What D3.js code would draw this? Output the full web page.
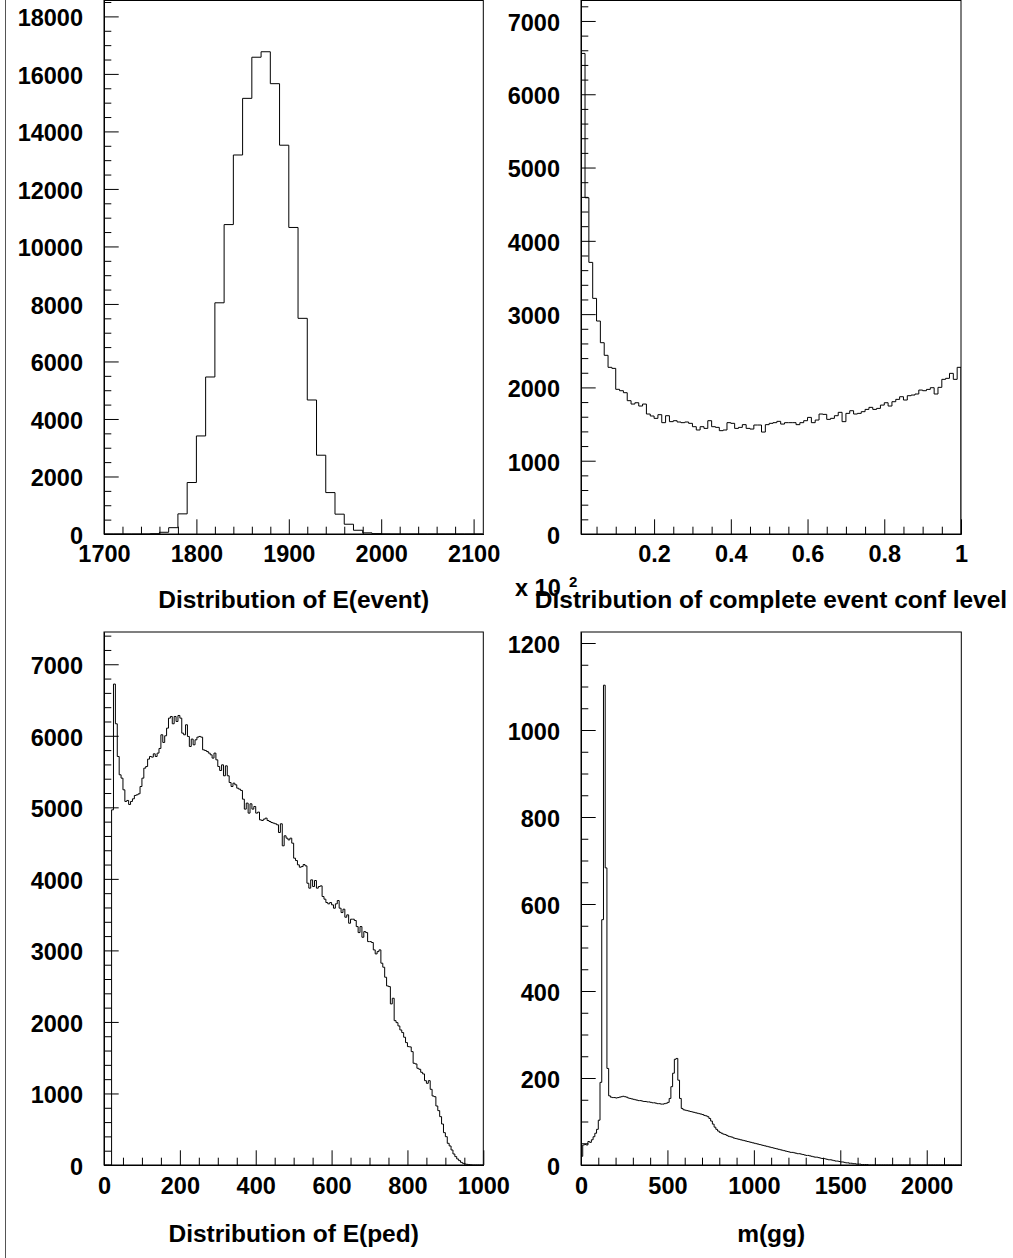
<!DOCTYPE html>
<html>
<head>
<meta charset="utf-8">
<script src="https://cdn.jsdelivr.net/npm/d3@7"></script>
<style>
  html, body { margin: 0; padding: 0; background: #fff; }
  svg { display: block; }
  text { font-family: "Liberation Sans", Arial, Helvetica, sans-serif; font-weight: bold; fill: #000; }
</style>
</head>
<body>
<svg id="canvas" width="1013" height="1258"></svg>
<script>
// ---------------- E(event): 10-unit bins from 1700 ----------------
const eventStart = 1700, eventWidth = 10;
const eventCounts = [
  0, 0, 0, 0, 0, 10, 60, 220, 700, 1790,
  3410, 5460, 8040, 10760, 13180, 15150, 16580, 16770, 15660, 13520,
  10660, 7500, 4660, 2740, 1440, 690, 340, 130, 40, 12,
  3, 0, 0, 0, 0, 0, 0, 0, 0, 0, 0
];
const eventXTicks = [1700, 1800, 1900, 2000, 2100];
const eventYTicks = [0, 2000, 4000, 6000, 8000, 10000, 12000, 14000, 16000, 18000];

// ---------------- complete event confidence level: 0.01 bins from 0.01 ----------------
const confStart = 0.01, confWidth = 0.01;
const confCounts = [
  6557, 4588, 3706, 3215, 2906, 2610, 2438, 2274, 2260, 1974,
  1955, 1928, 1819, 1773, 1791, 1746, 1773, 1637, 1610, 1578,
  1628, 1519, 1614, 1533, 1546, 1528, 1519, 1528, 1510, 1464,
  1419, 1464, 1441, 1546, 1464, 1455, 1410, 1419, 1519, 1510,
  1441, 1455, 1492, 1441, 1432, 1487, 1487, 1391, 1492, 1510,
  1519, 1537, 1500, 1519, 1519, 1519, 1492, 1519, 1546, 1591,
  1519, 1555, 1637, 1632, 1564, 1578, 1614, 1660, 1533, 1646,
  1682, 1637, 1646, 1669, 1700, 1728, 1700, 1714, 1759, 1791,
  1746, 1805, 1837, 1873, 1828, 1887, 1896, 1910, 1964, 1955,
  1973, 1996, 1910, 2001, 2110, 2124, 2192, 2110, 2274
];
const confXTicks = [0.2, 0.4, 0.6, 0.8, 1];
const confXLabels = ["0.2", "0.4", "0.6", "0.8", "1"];
const confYTicks = [0, 1000, 2000, 3000, 4000, 5000, 6000, 7000];

// ---------------- E(ped): 5-unit bins from 0 ----------------
const pedStart = 0, pedWidth = 5;
const pedCounts = [
  0, 0, 0, 0, 4965, 6723, 6168, 5711, 5455, 5408,
  5245, 5082, 5096, 5040, 5082, 5119, 5166, 5175, 5189, 5291,
  5408, 5548, 5571, 5674, 5711, 5702, 5748, 5711, 5758, 5823,
  6014, 5907, 6000, 6107, 6247, 6270, 6168, 6270, 6200, 6284,
  6247, 6037, 6014, 6154, 5991, 5851, 5954, 5874, 5944, 5981,
  5991, 5981, 5804, 5795, 5781, 5758, 5734, 5688, 5758, 5664,
  5571, 5515, 5594, 5441, 5580, 5441, 5347, 5291, 5338, 5315,
  5268, 5254, 5236, 5114, 4975, 5059, 4919, 5049, 4975, 5012,
  4919, 4933, 4825, 4816, 4835, 4849, 4816, 4802, 4788, 4779,
  4770, 4756, 4648, 4770, 4462, 4602, 4569, 4545, 4569, 4499,
  4289, 4256, 4196, 4163, 4172, 4200, 4182, 3939, 3870, 3986,
  3893, 3977, 3870, 3893, 3902, 3753, 3716, 3669, 3651, 3669,
  3637, 3590, 3651, 3697, 3590, 3529, 3576, 3464, 3497, 3380,
  3436, 3436, 3418, 3333, 3249, 3333, 3184, 3263, 3249, 3123,
  3123, 3110, 3007, 2951, 2983, 3007, 2821, 2765, 2625, 2503,
  2494, 2252, 2331, 2018, 1990, 1944, 1888, 1851, 1786, 1711,
  1655, 1651, 1585, 1422, 1413, 1352, 1338, 1296, 1273, 1179,
  1142, 1179, 1058, 965, 955, 825, 760, 676, 573, 452,
  396, 303, 266, 210, 154, 117, 84, 61, 37, 23,
  14, 9, 5, 2, 0, 0, 0, 0, 0, 0
];
const pedXTicks = [0, 200, 400, 600, 800, 1000];
const pedYTicks = [0, 1000, 2000, 3000, 4000, 5000, 6000, 7000];

// ---------------- m(gg): 10-unit bins from 0 ----------------
const mggStart = 0, mggWidth = 10;
const mggCounts = [
  20, 46, 47, 46, 54, 52, 58, 65, 73, 82,
  103, 190, 564, 1103, 683, 222, 159, 156, 155, 155,
  154, 155, 156, 157, 158, 157, 156, 154, 153, 152,
  151, 150, 149, 148, 148, 147, 146, 146, 145, 145,
  144, 143, 143, 142, 141, 141, 140, 140, 141, 142,
  144, 153, 180, 211, 243, 245, 195, 153, 130, 127,
  126, 125, 124, 123, 122, 121, 120, 119, 118, 117,
  116, 114, 113, 111, 107, 101, 94, 87, 82, 78,
  75, 73, 71, 70, 68, 66, 65, 64, 62, 61,
  60, 59, 58, 57, 56, 55, 54, 53, 52, 51,
  50, 49, 48, 47, 46, 45, 44, 43, 42, 41,
  40, 39, 38, 37, 36, 35, 34, 33, 32, 31,
  30, 29, 29, 28, 27, 26, 26, 25, 24, 23,
  22, 22, 21, 20, 19, 18, 18, 17, 16, 15,
  15, 14, 13, 12, 12, 11, 10, 9, 9, 8,
  7, 7, 6, 5, 5, 4, 4, 3, 3, 2,
  2, 2, 1, 1, 1, 1, 0, 0, 0, 0,
  0, 0, 0, 0, 0, 0, 0, 0, 0, 0,
  0, 0, 0, 0, 0, 0, 0, 0, 0, 0,
  0, 0, 0, 0, 0, 0, 0, 0, 0, 0,
  0, 0, 0, 0, 0, 0, 0, 0, 0, 0,
  0, 0, 0, 0, 0, 0, 0, 0, 0, 0
];
const mggXTicks = [0, 500, 1000, 1500, 2000];
const mggYTicks = [0, 200, 400, 600, 800, 1000, 1200];

const titles = [
  "Distribution of E(event)",
  "Distribution of complete event conf level",
  "Distribution of E(ped)",
  "m(gg)"
];

// ---------------- drawing ----------------
const svg = d3.select("#canvas");
const TICK_FONT = 23.5, TITLE_FONT = 24.5;
const MAJOR = 14.7, MINOR = 7.3;

// left pad border
svg.append("line")
  .attr("x1", 5.5).attr("x2", 5.5).attr("y1", 0).attr("y2", 1258)
  .attr("stroke", "#555").attr("stroke-width", 1);

function stepPath(x, y, start, width, counts) {
  const p = d3.path();
  p.moveTo(x(start), y(0));
  counts.forEach((c, i) => {
    p.lineTo(x(start + i * width), y(c));
    p.lineTo(x(start + (i + 1) * width), y(c));
  });
  p.lineTo(x(start + counts.length * width), y(0));
  return p.toString();
}

function styleAxis(g) {
  g.selectAll("line").attr("stroke", "#000").attr("stroke-width", 1);
  g.select(".domain").attr("stroke", "#000").attr("stroke-width", 1);
  g.selectAll("text")
    .attr("font-size", TICK_FONT)
    .attr("font-family", "\"Liberation Sans\", Arial, sans-serif")
    .attr("font-weight", "bold")
    .attr("fill", "#000");
}

function drawPanel(cfg, idx) {
  const { x0, x1, y0, y1 } = cfg.box;
  const x = d3.scaleLinear().domain(cfg.xDomain).range([x0, x1]);
  const y = d3.scaleLinear().domain(cfg.yDomain).range([y1, y0]);
  const g = svg.append("g");

  const clipId = "clip" + idx;
  g.append("clipPath").attr("id", clipId)
    .append("rect").attr("x", x0).attr("y", y0).attr("width", x1 - x0).attr("height", y1 - y0);

  // histogram outline
  g.append("path")
    .attr("clip-path", `url(#${clipId})`)
    .attr("d", stepPath(x, y, cfg.start, cfg.width, cfg.counts))
    .attr("fill", "none").attr("stroke", "#000").attr("stroke-width", 1);

  // y axis: minor then major ticks, pointing into the frame
  const gyMinor = g.append("g").attr("transform", `translate(${x0},0)`)
    .call(d3.axisLeft(y).tickValues(cfg.yMinor).tickSizeInner(-MINOR).tickSizeOuter(0).tickFormat(""));
  styleAxis(gyMinor);
  const gy = g.append("g").attr("transform", `translate(${x0},0)`)
    .call(d3.axisLeft(y).tickValues(cfg.yTicks).tickSizeInner(-MAJOR).tickSizeOuter(0)
      .tickPadding(21).tickFormat(d3.format("d")));
  styleAxis(gy);
  gy.selectAll("text").attr("dy", "0.40em");

  // x axis
  const gxMinor = g.append("g").attr("transform", `translate(0,${y1})`)
    .call(d3.axisBottom(x).tickValues(cfg.xMinor).tickSizeInner(-MINOR).tickSizeOuter(0).tickFormat(""));
  styleAxis(gxMinor);
  const gx = g.append("g").attr("transform", `translate(0,${y1})`)
    .call(d3.axisBottom(x).tickValues(cfg.xTicks).tickSizeInner(-MAJOR).tickSizeOuter(0)
      .tickPadding(cfg.xPad).tickFormat((d, i) => cfg.xLabels ? cfg.xLabels[i] : d3.format("d")(d)));
  styleAxis(gx);

  // frame
  g.append("rect")
    .attr("x", x0).attr("y", y0).attr("width", x1 - x0).attr("height", y1 - y0)
    .attr("fill", "none").attr("stroke", "#000").attr("stroke-width", 1);

  // title under the axis
  g.append("text")
    .attr("x", (x0 + x1) / 2).attr("y", cfg.titleY)
    .attr("text-anchor", "middle").attr("font-size", TITLE_FONT)
    .text(cfg.title);
}

const panels = [
  {
    box: { x0: 104, x1: 483.3, y0: 0.5, y1: 534 },
    xDomain: [1700, 2110.5], yDomain: [0, 18570 * (533.5 / 534)],
    start: eventStart, width: eventWidth, counts: eventCounts,
    xTicks: eventXTicks, xMinor: d3.range(1720, 2110, 20).filter(v => v % 100 !== 0),
    yTicks: eventYTicks, yMinor: d3.range(500, 18570, 500).filter(v => v % 2000 !== 0),
    xPad: 11.5, titleY: 608, title: titles[0]
  },
  {
    box: { x0: 581, x1: 961, y0: 0.5, y1: 534 },
    xDomain: [0.0095, 1.0], yDomain: [0, 7286 * (533.5 / 534)],
    start: confStart, width: confWidth, counts: confCounts,
    xTicks: confXTicks, xLabels: confXLabels,
    xMinor: [0.05, 0.1, 0.15, 0.25, 0.3, 0.35, 0.45, 0.5, 0.55, 0.65, 0.7, 0.75, 0.85, 0.9, 0.95],
    yTicks: confYTicks, yMinor: d3.range(200, 7286, 200).filter(v => v % 1000 !== 0),
    xPad: 11.5, titleY: 608, title: titles[1]
  },
  {
    box: { x0: 104, x1: 483.3, y0: 632, y1: 1165 },
    xDomain: [0, 1000], yDomain: [0, 7451],
    start: pedStart, width: pedWidth, counts: pedCounts,
    xTicks: pedXTicks, xMinor: d3.range(50, 1000, 50).filter(v => v % 200 !== 0),
    yTicks: pedYTicks, yMinor: d3.range(200, 7451, 200).filter(v => v % 1000 !== 0),
    xPad: 12.3, titleY: 1241.5, title: titles[2]
  },
  {
    box: { x0: 581, x1: 961.3, y0: 632, y1: 1165 },
    xDomain: [0, 2200], yDomain: [0, 1225.3],
    start: mggStart, width: mggWidth, counts: mggCounts,
    xTicks: mggXTicks, xMinor: d3.range(100, 2200, 100).filter(v => v % 500 !== 0),
    yTicks: mggYTicks, yMinor: d3.range(50, 1225, 50).filter(v => v % 200 !== 0),
    xPad: 12.3, titleY: 1241.5, title: titles[3]
  }
];

panels.forEach(drawPanel);

// axis exponent marker
svg.append("text").attr("x", 515).attr("y", 596).attr("font-size", TICK_FONT).text("x 10");
svg.append("text").attr("x", 569).attr("y", 587).attr("font-size", 15).text("2");
</script>
</body>
</html>
